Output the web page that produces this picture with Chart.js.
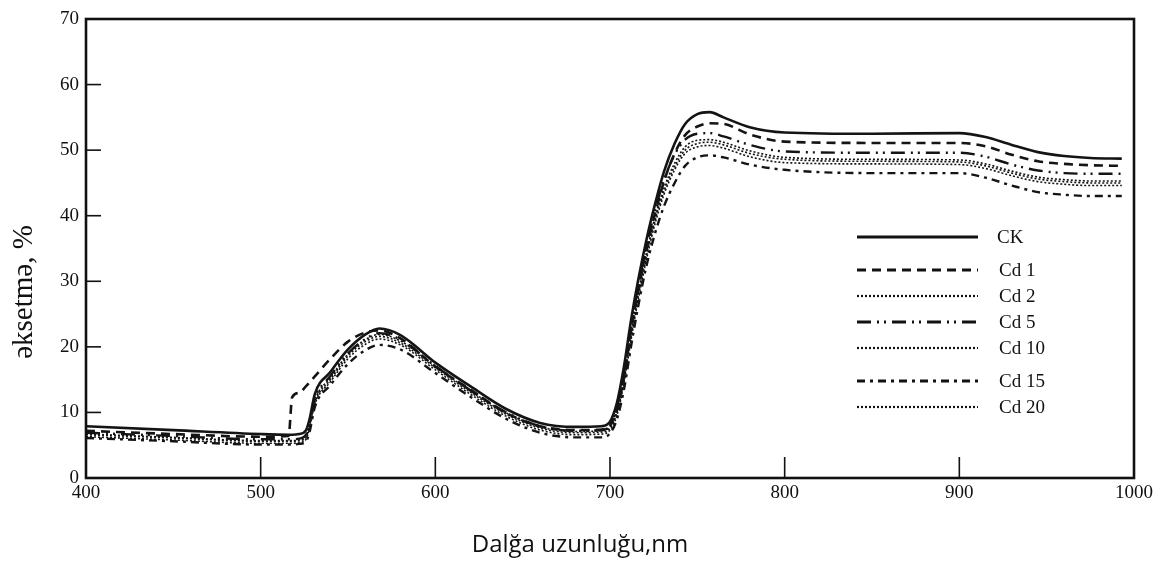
<!DOCTYPE html>
<html>
<head>
<meta charset="utf-8">
<script src="https://cdn.jsdelivr.net/npm/chart.js@4"></script>
<style>
  html, body { margin: 0; padding: 0; background: #fff; }
  canvas { display: block; }
</style>
</head>
<body>
<canvas id="reflChart" width="1170" height="562"></canvas>
<script>
// Wavelength grid (nm) shared by all curves
const wavelength = [400, 450, 500, 516, 518, 522, 526, 528, 531, 540, 550, 560, 568, 580, 600, 620, 640, 660, 680, 695, 700, 704, 708, 712, 716, 721, 726, 731, 737, 743, 750, 757, 765, 780, 800, 850, 900, 915, 930, 945, 960, 975, 993];

// Reflectance, %
const ck   = [7.9, 7.3, 6.7, 6.6, 6.6, 6.7, 7.3, 9.0, 12.8, 16.2, 19.6, 21.9, 22.8, 21.8, 17.6, 14.0, 10.6, 8.4, 7.8, 7.9, 8.6, 11.5, 17.0, 24.0, 30.0, 36.5, 42.0, 46.8, 51.0, 54.0, 55.5, 55.8, 55.0, 53.5, 52.7, 52.5, 52.6, 52.0, 50.8, 49.7, 49.1, 48.8, 48.7];
const cd1  = [7.2, 6.7, 6.3, 6.4, 12.3, 13.0, 14.0, 14.6, 15.5, 18.2, 20.8, 22.2, 22.5, 21.3, 17.0, 13.5, 10.0, 7.9, 7.3, 7.4, 8.0, 10.5, 15.5, 22.5, 28.5, 35.0, 40.5, 45.3, 49.5, 52.3, 53.6, 54.1, 54.0, 52.4, 51.3, 51.1, 51.1, 50.6, 49.3, 48.3, 47.9, 47.7, 47.6];
const cd2  = [6.6, 6.1, 5.6, 5.6, 5.6, 5.7, 6.2, 8.0, 11.5, 15.0, 18.6, 20.8, 21.6, 20.6, 16.8, 13.1, 9.8, 7.6, 6.9, 7.0, 7.6, 10.0, 15.0, 21.5, 27.5, 34.0, 39.5, 43.8, 47.5, 50.0, 51.0, 51.2, 50.8, 49.5, 48.6, 48.3, 48.2, 47.6, 46.5, 45.6, 45.2, 45.0, 45.0];
const cd5  = [6.9, 6.4, 5.9, 5.9, 5.9, 6.0, 6.6, 8.5, 12.0, 15.6, 19.0, 21.2, 22.1, 21.1, 17.1, 13.4, 10.1, 7.9, 7.2, 7.3, 8.0, 10.8, 16.0, 23.0, 29.0, 35.5, 41.0, 45.5, 49.3, 51.6, 52.5, 52.6, 52.1, 50.8, 49.8, 49.6, 49.6, 49.0, 47.8, 46.9, 46.5, 46.4, 46.4];
const cd10 = [6.3, 5.8, 5.3, 5.3, 5.3, 5.4, 5.9, 7.6, 11.2, 14.7, 18.2, 20.4, 21.2, 20.3, 16.5, 12.8, 9.5, 7.3, 6.6, 6.7, 7.3, 9.6, 14.5, 21.0, 27.0, 33.5, 39.0, 43.3, 47.0, 49.5, 50.5, 50.7, 50.3, 49.0, 48.1, 47.9, 47.8, 47.2, 46.1, 45.2, 44.8, 44.6, 44.6];
const cd15 = [6.1, 5.6, 5.1, 5.1, 5.1, 5.2, 5.6, 7.0, 10.8, 14.2, 17.4, 19.5, 20.3, 19.6, 16.0, 12.4, 9.1, 6.9, 6.2, 6.2, 6.8, 9.0, 13.5, 20.0, 26.0, 32.5, 37.5, 41.5, 45.0, 47.6, 48.9, 49.2, 48.9, 47.8, 47.0, 46.5, 46.5, 45.8, 44.6, 43.6, 43.2, 43.0, 43.0];
const cd20 = [6.7, 6.2, 5.7, 5.7, 5.7, 5.8, 6.4, 8.2, 11.8, 15.3, 18.9, 21.1, 21.9, 20.9, 17.0, 13.3, 10.0, 7.8, 7.1, 7.2, 7.8, 10.3, 15.3, 22.0, 28.0, 34.5, 40.0, 44.3, 48.0, 50.5, 51.5, 51.6, 51.2, 49.9, 48.9, 48.6, 48.5, 47.9, 46.8, 45.9, 45.5, 45.3, 45.3];

const seriesNames = ['CK', 'Cd 1', 'Cd 2', 'Cd 5', 'Cd 10', 'Cd 15', 'Cd 20'];
const xTicks = [400, 500, 600, 700, 800, 900, 1000];
const yTicks = [0, 10, 20, 30, 40, 50, 60, 70];

const serif = '"Liberation Serif", "Times New Roman", serif';

// line styles per series
const styles = [
    { width: 2.6, dash: [] },
    { width: 2.6, dash: [9, 6] },
    { width: 1.6, dash: [2, 2] },
    { width: 2.4, dash: [14, 6, 2, 5, 2, 6] },
    { width: 1.6, dash: [2, 2] },
    { width: 2.4, dash: [8, 5, 3, 5] },
    { width: 1.6, dash: [2, 2] }
];

const allValues = [ck, cd1, cd2, cd5, cd10, cd15, cd20];

const datasets = allValues.map(function(vals, i) {
    return {
        label: seriesNames[i],
        data: wavelength.map((w, j) => ({ x: w, y: vals[j] })),
        borderColor: '#141414',
        borderWidth: styles[i].width,
        borderDash: styles[i].dash,
        pointRadius: 0,
        fill: false,
        cubicInterpolationMode: 'monotone'
    };
});

// frame, inner ticks, legend and axis titles
const framePlugin = {
    id: 'frame',
    afterDraw: function(chart) {
        const ctx = chart.ctx;
        const a = chart.chartArea;
        const xs = chart.scales.x;
        const ys = chart.scales.y;
        ctx.save();
        ctx.strokeStyle = '#111';
        ctx.setLineDash([]);

        // box
        ctx.lineWidth = 2.6;
        ctx.strokeRect(a.left, a.top, a.right - a.left, a.bottom - a.top);

        // inner ticks
        ctx.lineWidth = 1.6;
        yTicks.forEach(function(v) {
            if (v === 0 || v === 70) return;
            const py = ys.getPixelForValue(v);
            ctx.beginPath();
            ctx.moveTo(a.left, py);
            ctx.lineTo(a.left + 15, py);
            ctx.stroke();
        });
        xTicks.forEach(function(v) {
            if (v === 400 || v === 1000) return;
            const px = xs.getPixelForValue(v);
            ctx.beginPath();
            ctx.moveTo(px, a.bottom);
            ctx.lineTo(px, a.bottom - 21);
            ctx.stroke();
        });

        // legend
        const rows = [237, 270, 296, 322, 348, 381, 407];
        ctx.font = '19px ' + serif;
        ctx.fillStyle = '#111';
        ctx.textBaseline = 'middle';
        ctx.textAlign = 'left';
        chart.data.datasets.forEach(function(ds, i) {
            ctx.lineWidth = ds.borderWidth + 0.6;
            ctx.setLineDash(ds.borderDash);
            ctx.beginPath();
            ctx.moveTo(857, rows[i]);
            ctx.lineTo(978, rows[i]);
            ctx.stroke();
            ctx.setLineDash([]);
            ctx.fillText(ds.label, i === 0 ? 997 : 999, rows[i] + 1);
        });

        // axis titles
        ctx.font = '24px "Open Sans", sans-serif';
        ctx.textAlign = 'center';
        ctx.fillText('Dalğa uzunluğu,nm', 580, 545);

        ctx.save();
        ctx.translate(24, 292);
        ctx.rotate(-Math.PI / 2);
        ctx.font = '29px ' + serif;
        ctx.fillText('əksetmə, %', 0, 0);
        ctx.restore();

        ctx.restore();
    }
};

new Chart(document.getElementById('reflChart'), {
    type: 'line',
    data: { datasets: datasets },
    options: {
        responsive: false,
        animation: false,
        events: [],
        layout: { padding: { top: 19, right: 36, left: 0, bottom: 0 } },
        plugins: {
            legend: { display: false },
            tooltip: { enabled: false }
        },
        scales: {
            x: {
                type: 'linear',
                min: 400,
                max: 1000,
                afterFit: function(scale) { scale.height = 84; },
                afterBuildTicks: function(scale) {
                    scale.ticks = xTicks.map(v => ({ value: v }));
                },
                grid: { display: false, drawTicks: false },
                border: { display: false },
                ticks: {
                    padding: 4,
                    color: '#111',
                    maxRotation: 0,
                    font: { family: serif, size: 19 },
                    callback: function(value) { return String(value); }
                }
            },
            y: {
                min: 0,
                max: 70,
                afterFit: function(scale) { scale.width = 86; },
                afterBuildTicks: function(scale) {
                    scale.ticks = yTicks.map(v => ({ value: v }));
                },
                grid: { display: false, drawTicks: false },
                border: { display: false },
                ticks: {
                    padding: 7,
                    color: '#111',
                    font: { family: serif, size: 19 },
                    callback: function(value) { return String(value); }
                }
            }
        }
    },
    plugins: [framePlugin]
});
</script>
</body>
</html>
